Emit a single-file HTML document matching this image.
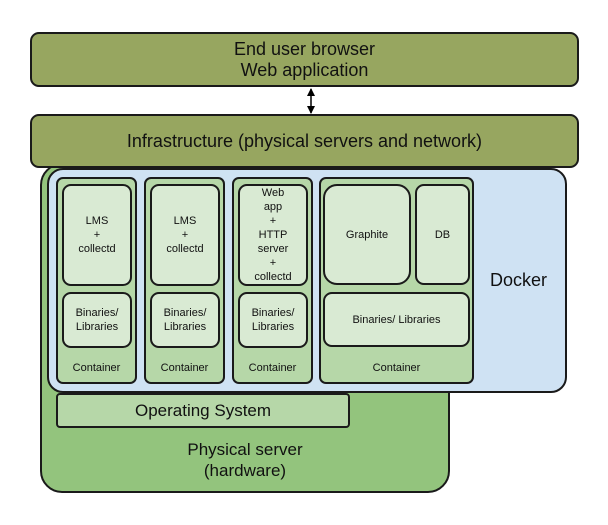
<!DOCTYPE html>
<html><head><style>
body{margin:0;width:608px;height:525px;background:#fff;position:relative;font-family:"Liberation Sans",sans-serif;overflow:hidden}
.b{position:absolute;box-sizing:border-box;border:2px solid #1a1a1a;display:flex;align-items:center;justify-content:center;text-align:center;color:#111}
.olive{background:#97a660;border-radius:9px;font-size:18px;line-height:21px}
.c{background:#b6d7a8;border-radius:7px;align-items:flex-end;font-size:11px;padding-bottom:8px}
.i{background:#d9ead3;border-radius:9px;font-size:11px;line-height:14px}
</style></head><body>
<div class="b olive" style="left:30px;top:32px;width:549px;height:55px">End user browser<br>Web application</div>
<svg style="position:absolute;left:303px;top:86px" width="16" height="30"><line x1="8" y1="3" x2="8" y2="27" stroke="#000" stroke-width="1.5"/><path d="M8 2 L4 10 L12 10Z M8 28 L4 20 L12 20Z" fill="#000"/></svg>
<div class="b" style="left:40px;top:163px;width:410px;height:330px;background:#93c47d;border-radius:22px;align-items:flex-end;padding-bottom:10px;font-size:17px;line-height:21px">Physical server<br>(hardware)</div>
<div class="b olive" style="left:30px;top:114px;width:549px;height:54px">Infrastructure (physical servers and network)</div>
<div class="b" style="left:47px;top:168px;width:520px;height:225px;background:#cfe2f3;border-radius:16px;justify-content:flex-end;padding-right:18px;font-size:18px">Docker</div>
<div class="b c" style="left:56px;top:177px;width:81px;height:207px">Container</div>
<div class="b c" style="left:144px;top:177px;width:81px;height:207px">Container</div>
<div class="b c" style="left:232px;top:177px;width:81px;height:207px">Container</div>
<div class="b c" style="left:319px;top:177px;width:155px;height:207px">Container</div>
<div class="b i" style="left:62px;top:184px;width:70px;height:102px">LMS<br>+<br>collectd</div>
<div class="b i" style="left:150px;top:184px;width:70px;height:102px">LMS<br>+<br>collectd</div>
<div class="b i" style="left:238px;top:184px;width:70px;height:102px">Web<br>app<br>+<br>HTTP<br>server<br>+<br>collectd</div>
<div class="b i" style="left:62px;top:292px;width:70px;height:56px">Binaries/<br>Libraries</div>
<div class="b i" style="left:150px;top:292px;width:70px;height:56px">Binaries/<br>Libraries</div>
<div class="b i" style="left:238px;top:292px;width:70px;height:56px">Binaries/<br>Libraries</div>
<div class="b i" style="left:323px;top:184px;width:88px;height:101px;border-radius:14px">Graphite</div>
<div class="b i" style="left:415px;top:184px;width:55px;height:101px">DB</div>
<div class="b i" style="left:323px;top:292px;width:147px;height:55px">Binaries/ Libraries</div>
<div class="b" style="left:56px;top:393px;width:294px;height:35px;background:#b6d7a8;border-radius:4px;font-size:17px">Operating System</div>
</body></html>
